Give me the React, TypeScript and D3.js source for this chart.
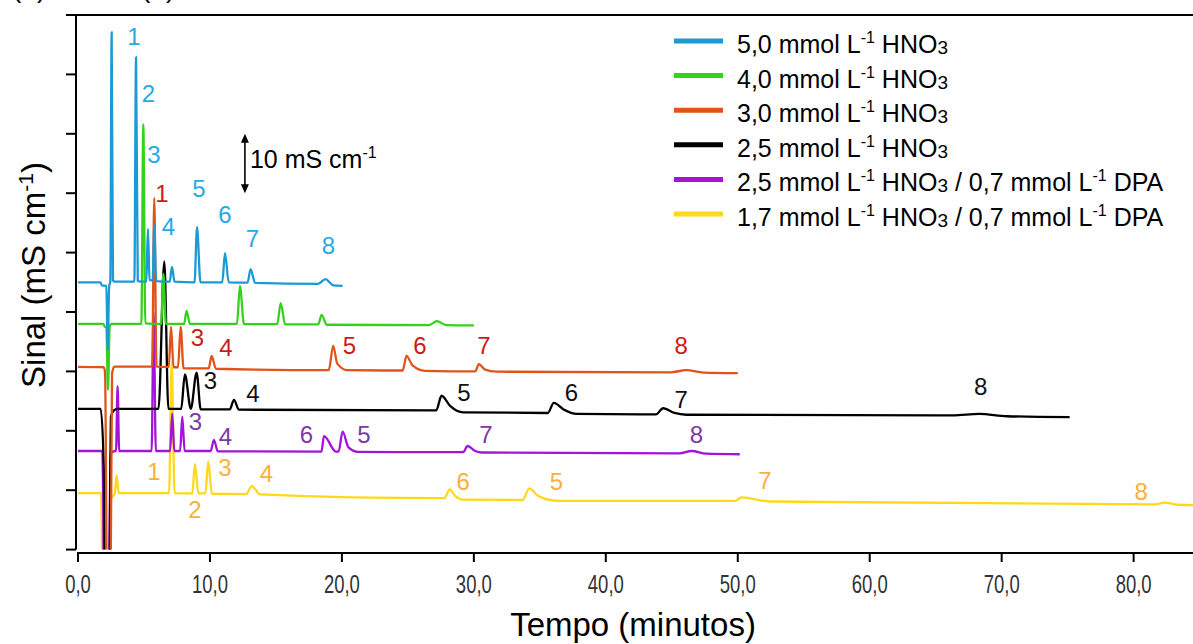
import React from 'react'
import * as d3 from 'd3'

type Pt = [number, number]
type Lbl = [number, number, string]

// eixos
const timeTicks = [0, 10, 20, 30, 40, 50, 60, 70, 80]
const signalTicks = [0, 10, 20, 30, 40, 50, 60, 70, 80, 90]

// cromatogramas: [tempo (min), sinal (mS/cm, com deslocamento)]
const hno3_50: Pt[] = [
    [0, 45.0], [1.7, 45.0], [1.8, 44.5], [2.15, 44.4], [2.25, 33.6], [2.36, 44.3], [2.45, 45.2], [2.55, 87.1], [2.65, 45.3], [2.8, 45.1],
    [4.27, 45.1], [4.4, 82.9], [4.53, 45.2],
    [5.18, 45.1], [5.3, 54.0], [5.42, 45.4],
    [5.66, 45.3], [5.78, 54.6], [5.92, 45.2],
    [6.95, 45.1], [7.12, 47.6], [7.32, 45.1],
    [8.83, 45.0], [9.02, 54.3], [9.28, 45.0],
    [10.93, 45.0], [11.14, 49.9], [11.42, 45.0],
    [12.85, 44.95], [13.08, 47.2], [13.42, 44.9],
    [18.2, 44.75], [18.76, 45.55], [19.35, 44.5], [20.05, 44.4]
]
const hno3_40: Pt[] = [
    [0, 38.0], [1.9, 38.0], [2.05, 37.5], [2.15, 37.4], [2.27, 26.9], [2.4, 37.5], [2.55, 38.0],
    [4.8, 38.0], [4.95, 71.6], [5.1, 38.1],
    [6.3, 38.0], [6.47, 46.4], [6.66, 38.0],
    [8.04, 38.0], [8.23, 40.2], [8.48, 38.0],
    [12.05, 38.0], [12.27, 44.4], [12.58, 37.95],
    [15.1, 37.95], [15.36, 41.5], [15.7, 37.9],
    [18.2, 37.9], [18.46, 39.5], [18.85, 37.85],
    [26.6, 37.8], [27.2, 38.45], [27.9, 37.8], [30.0, 37.75]
]
const hno3_30: Pt[] = [
    [0, 30.75], [1.95, 30.7], [2.05, 29.8], [2.22, -12], [2.45, -12], [2.58, 29.6], [2.75, 30.8],
    [5.62, 30.8], [5.78, 59.2], [5.95, 30.8],
    [6.88, 30.75], [7.05, 37.5], [7.24, 30.7],
    [7.58, 30.7], [7.78, 37.5], [8.0, 30.5],
    [9.9, 30.5], [10.13, 32.6], [10.45, 30.45],
    [19.0, 30.2], [19.34, 34.3], [19.65, 31.3], [20.4, 30.2],
    [24.6, 30.15], [24.9, 32.6], [25.35, 31.0], [26.3, 30.1],
    [30.1, 30.0], [30.38, 31.2], [30.85, 30.3], [31.7, 29.95],
    [44.9, 29.85], [46.1, 30.2], [47.4, 29.8], [50.0, 29.7]
]
const hno3_25: Pt[] = [
    [0, 23.7], [1.72, 23.7], [1.95, 14.2], [2.08, -12], [2.35, -12], [2.5, 22.4], [2.7, 23.4], [3.0, 23.7],
    [6.1, 23.7], [6.54, 48.5], [6.85, 23.7],
    [7.82, 23.7], [8.1, 29.5], [8.55, 23.7], [8.99, 29.8], [9.3, 23.6],
    [11.5, 23.6], [11.82, 25.2], [12.2, 23.55],
    [27.15, 23.45], [27.55, 25.9], [28.2, 24.2], [29.2, 23.1],
    [35.6, 23.0], [36.06, 24.7], [36.8, 23.6], [37.8, 22.85],
    [43.8, 22.75], [44.34, 23.8], [45.2, 23.0], [46.1, 22.7],
    [66.3, 22.6], [68.3, 22.85], [70.4, 22.45], [75.15, 22.3]
]
const dpa_25: Pt[] = [
    [0, 16.6], [1.85, 16.6], [2.0, -12], [2.3, -12], [2.48, 16.2], [2.8, 16.6],
    [2.88, 16.6], [3.0, 27.5], [3.12, 16.6],
    [5.58, 16.6], [5.73, 40.0], [5.9, 16.6],
    [6.98, 16.6], [7.14, 22.9], [7.3, 16.6],
    [7.74, 16.6], [7.9, 22.4], [8.08, 16.6],
    [10.05, 16.6], [10.3, 18.45], [10.6, 16.55],
    [18.45, 16.5], [18.64, 19.1], [19.55, 16.5], [19.75, 16.5], [20.05, 19.85], [20.5, 17.2], [21.2, 16.45],
    [29.2, 16.4], [29.52, 17.44], [30.1, 16.6], [30.6, 16.35],
    [45.6, 16.2], [46.5, 16.6], [47.6, 16.15], [50.15, 16.05]
]
const dpa_17: Pt[] = [
    [0, 9.5], [1.75, 9.5], [1.9, -12], [2.3, -12], [2.5, 8.6], [2.78, 9.4], [2.93, 12.5], [3.08, 9.5],
    [6.9, 9.5], [7.1, 31.6], [7.32, 9.5],
    [8.66, 9.45], [8.86, 14.4], [9.12, 9.45],
    [9.65, 9.45], [9.87, 14.8], [10.15, 9.4],
    [12.75, 9.35], [13.16, 10.7], [13.8, 9.3],
    [27.75, 8.65], [28.18, 10.15], [28.6, 9.0], [29.2, 8.4],
    [33.7, 8.35], [34.2, 10.3], [34.9, 9.0], [36.4, 8.2],
    [49.8, 8.2], [50.28, 8.8], [52.4, 8.1],
    [81.5, 7.6], [82.4, 7.9], [83.3, 7.55], [84.5, 7.5]
]

// numeração dos picos: [tempo, sinal, texto]
const labels_50: Lbl[] = [[4.24, 84.9, '1'], [5.34, 75.35, '2'], [5.76, 65.08, '3'], [6.86, 52.96, '4'], [9.17, 59.36, '5'], [11.14, 54.98, '6'], [13.22, 50.94, '7'], [18.98, 49.76, '8']]
const labels_30: Lbl[] = [[6.36, 58.52, '1'], [9.05, 34.36, '3'], [11.21, 32.51, '4'], [20.57, 32.93, '5'], [25.91, 32.93, '6'], [30.76, 32.93, '7'], [45.72, 32.93, '8']]
const labels_25: Lbl[] = [[10.04, 27.04, '3'], [13.26, 24.93, '4'], [29.24, 25.02, '5'], [37.39, 25.02, '6'], [45.72, 23.84, '7'], [68.41, 26.03, '8']]
const labels_dpa25: Lbl[] = [[8.9, 20.13, '3'], [11.17, 17.61, '4'], [17.31, 17.95, '6'], [21.67, 17.95, '5'], [30.91, 17.95, '7'], [46.86, 17.95, '8']]
const labels_dpa17: Lbl[] = [[5.76, 11.72, '1'], [8.86, 5.32, '2'], [11.14, 12.39, '3'], [14.28, 11.38, '4'], [29.2, 10.03, '6'], [36.25, 10.03, '5'], [52.05, 10.2, '7'], [80.57, 8.35, '8']]

// legenda
const legendConc = ['5,0', '4,0', '3,0', '2,5', '2,5', '1,7']
const legendDpa = ['', '', '', '', '0,7', '0,7']
const lineColors = ['#1b9ad6', '#36d11c', '#e0541a', '#000000', '#a313d8', '#ffd81a']
const labelColors = ['#27a9e6', '#36d11c', '#cc1a1a', '#111111', '#7a3aa6', '#fbb03b']

const traces = [hno3_50, hno3_40, hno3_30, hno3_25, dpa_25, dpa_17]
const traceLabels = [labels_50, [], labels_30, labels_25, labels_dpa25, labels_dpa17]
const drawOrder = [5, 4, 3, 2, 1, 0]

const W = 1193
const H = 644
const FONT = 'Liberation Sans, Arial, Helvetica, sans-serif'

const App = () => {
    const x = d3.scaleLinear().domain([0, 84.5]).range([78, 1193])
    const y = d3.scaleLinear().domain([0, 90]).range([549.6, 15])
    const line = d3.line<Pt>()
        .x(d => x(d[0]))
        .y(d => y(d[1]))
        .curve(d3.curveMonotoneX)
    const fmt = (v: number) => d3.format('.1f')(v).replace('.', ',')
    const xAxisY = 553
    const arrowX = x(12.65)
    const aTop = y(70)
    const aBot = y(60)

    return (
        <svg width={W} height={H} style={{ display: 'block', position: 'absolute', left: 0, top: 0, background: '#fff' }} fontFamily={FONT}>
            <defs>
                <clipPath id="plot">
                    <rect x={76} y={15} width={W - 76} height={y(0) - 15} />
                </clipPath>
            </defs>
            <rect width={W} height={H} fill="#fff" />

            {/* fragmentos do título cortado no topo */}
            <text x={12} y={-3} fontSize={28}>(a)</text>
            <text x={141} y={-3} fontSize={28}>(b)</text>

            {/* traços */}
            <g clipPath="url(#plot)" fill="none" strokeLinejoin="round">
                {drawOrder.map(i => (
                    <path key={i} d={line(traces[i]) || ''} stroke={lineColors[i]} strokeWidth={2.3} />
                ))}
            </g>

            {/* eixo y */}
            <line x1={76} x2={76} y1={15} y2={y(0)} stroke="#000" strokeWidth={2} />
            <line x1={66} x2={W} y1={15} y2={15} stroke="#000" strokeWidth={2} />
            {signalTicks.map(t => (
                <line key={t} x1={66} x2={76} y1={y(t)} y2={y(t)} stroke="#000" strokeWidth={2} />
            ))}

            {/* eixo x */}
            <line x1={77} x2={W} y1={xAxisY} y2={xAxisY} stroke="#000" strokeWidth={2} />
            {timeTicks.map(t => (
                <g key={t}>
                    <line x1={x(t)} x2={x(t)} y1={xAxisY} y2={xAxisY + 9} stroke="#000" strokeWidth={2} />
                    <text transform={`translate(${x(t)},593) scale(0.74,1)`} textAnchor="middle" fontSize={25} fill="#333">{fmt(t)}</text>
                </g>
            ))}

            {/* títulos */}
            <text x={633} y={636} textAnchor="middle" fontSize={33} fill="#000">Tempo (minutos)</text>
            <text transform="translate(45,275) rotate(-90)" textAnchor="middle" fontSize={33} fill="#000">
                Sinal (mS cm<tspan dy={-12} fontSize={21}>-1</tspan><tspan dy={12}>)</tspan>
            </text>

            {/* números dos picos */}
            {traceLabels.map((ls, i) => ls.map((l, j) => (
                <text key={`${i}-${j}`} x={x(l[0])} y={y(l[1])} textAnchor="middle" fontSize={24} fill={labelColors[i]}>{l[2]}</text>
            )))}

            {/* barra de escala */}
            <line x1={arrowX} x2={arrowX} y1={aTop + 6} y2={aBot - 6} stroke="#000" strokeWidth={1.6} />
            <path d={`M${arrowX},${aTop} l-4,9 l8,0 z`} fill="#000" />
            <path d={`M${arrowX},${aBot} l-4,-9 l8,0 z`} fill="#000" />
            <text x={x(13.03)} y={y(64.2)} fontSize={25} fill="#000" style={{ whiteSpace: 'pre' }}>
                10 mS cm<tspan dy={-10} fontSize={16}>-1</tspan>
            </text>

            {/* legenda */}
            {legendConc.map((c, i) => {
                const ly = 41 + i * 34.6
                return (
                    <g key={i}>
                        <line x1={674} x2={723} y1={ly} y2={ly} stroke={lineColors[i]} strokeWidth={5} />
                        <text x={737} y={ly + 12} fontSize={25} fill="#000" style={{ whiteSpace: 'pre' }}>
                            {`${c} mmol L`}
                            <tspan dy={-10} fontSize={16}>-1</tspan>
                            <tspan dy={10}>{' HNO'}</tspan>
                            <tspan dy={1} fontSize={19}>3</tspan>
                            {legendDpa[i] && (
                                <>
                                    <tspan dy={-1}>{` / ${legendDpa[i]} mmol L`}</tspan>
                                    <tspan dy={-10} fontSize={16}>-1</tspan>
                                    <tspan dy={10}>{' DPA'}</tspan>
                                </>
                            )}
                        </text>
                    </g>
                )
            })}
        </svg>
    )
}

export default App
